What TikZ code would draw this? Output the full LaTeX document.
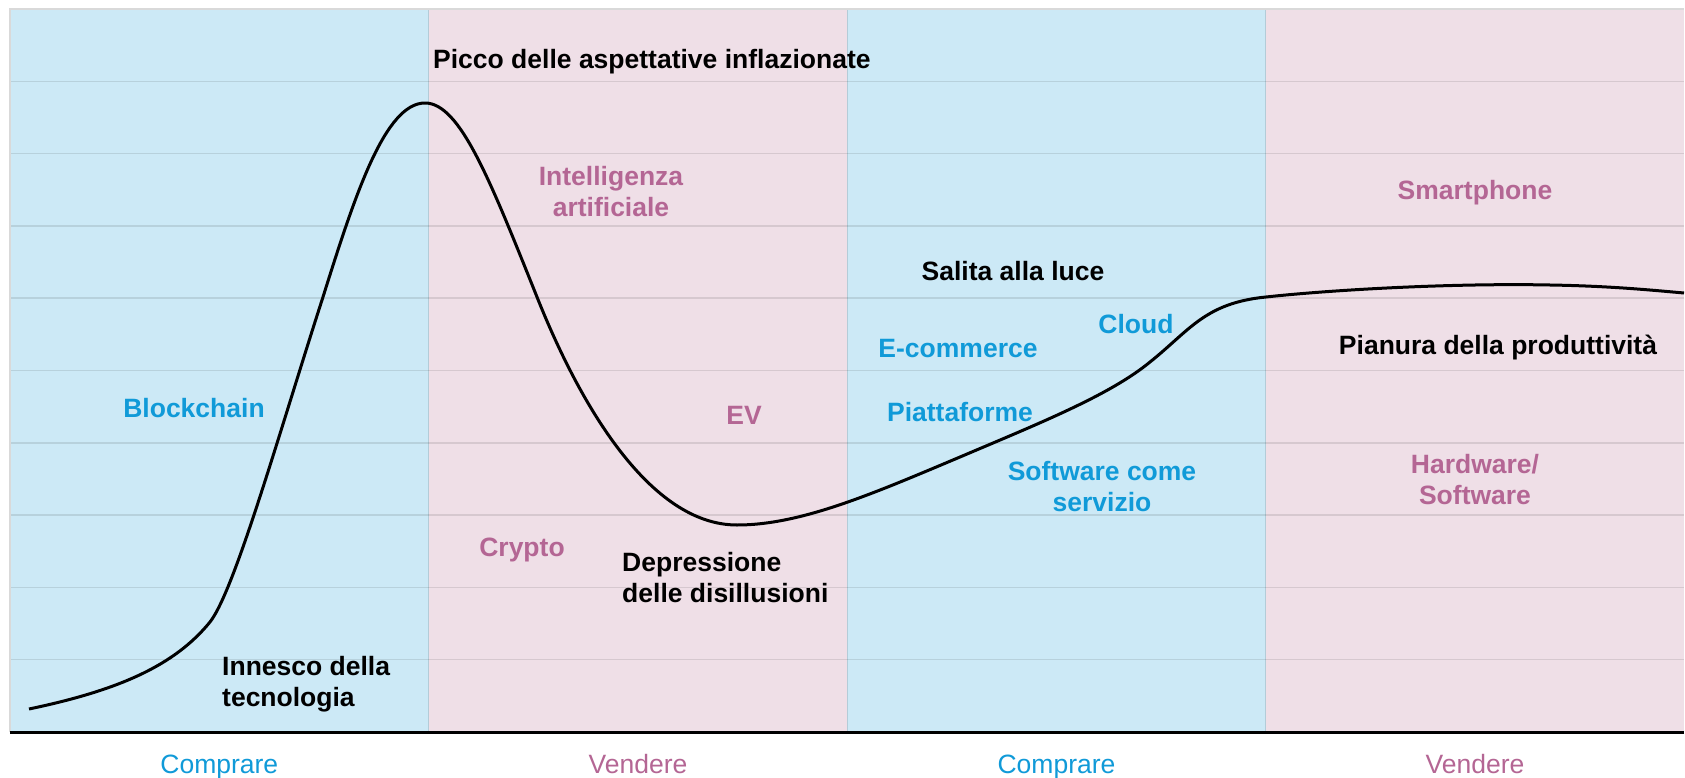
\documentclass[tikz,border=0pt]{standalone}
\usepackage{fontspec}
\setmainfont{Liberation Sans}
\definecolor{buyfill}{RGB}{204,233,246}
\definecolor{sellfill}{RGB}{239,223,231}
\definecolor{buytext}{RGB}{16,154,216}
\definecolor{selltext}{RGB}{180,102,148}
\begin{document}
\begin{tikzpicture}[x=1pt, y=-1pt,
        every node/.style={inner sep=0pt, font=\fontsize{26.5}{31}\selectfont},
        lbl/.style={font=\fontsize{26.5}{31}\selectfont\bfseries, align=left},
        buy/.style={lbl, text=buytext, align=center},
        sell/.style={lbl, text=selltext, align=center},
        phase/.style={anchor=base}]
        \useasboundingbox (0,0) rectangle (1685,778);
        % fasi
        \fill[buyfill] (10,9) rectangle (428.6,732);
        \fill[sellfill] (428.6,9) rectangle (847.2,732);
        \fill[buyfill] (847.2,9) rectangle (1265.8,732);
        \fill[sellfill] (1265.8,9) rectangle (1684,732);
        \foreach \k in {1,...,9}
            \draw[black, opacity=0.1, line width=1.5pt] (10,{9+72.3*\k}) -- (1684,{9+72.3*\k});
        \foreach \x in {428.6, 847.2, 1265.8}
            \draw[black, opacity=0.12, line width=1.2pt] (\x,9) -- (\x,732);
        \draw[black!15, line width=1.5pt] (10,732) -- (10,9) -- (1684,9);
        % curva
        \draw[line width=3pt, line join=round]
            (29,709) .. controls (120,690) and (175,665) .. (210,622)
            .. controls (235,590) and (280,430) .. (323,297)
            .. controls (355,195) and (385,103) .. (425,103)
            .. controls (460,103) and (490,180) .. (537,297)
            .. controls (580,405) and (650,525) .. (737,525)
            .. controls (800,525) and (870,495) .. (960,457)
            .. controls (1040,423) and (1110,395) .. (1150,362)
            .. controls (1190,330) and (1205,303) .. (1266,297)
            .. controls (1330,290) and (1450,283) .. (1550,285)
            .. controls (1610,286) and (1650,290) .. (1684,293);
        \draw[line width=3pt] (10,732) -- (1684,732);
        % etichette
        \node[lbl, anchor=base west] (picco) at (433,69) {Picco delle aspettative inflazionate};
        \node[lbl, anchor=north west] (innesco) at (222,656) {Innesco della\\tecnologia};
        \node[lbl, anchor=north west] (depressione) at (622,552) {Depressione\\delle disillusioni};
        \node[lbl, anchor=base] (salita) at (1013,280) {Salita alla luce};
        \node[lbl, anchor=base] (pianura) at (1498,354) {Pianura della produttività};
        \node[buy, anchor=base] (blockchain) at (194,417) {Blockchain};
        \node[buy, anchor=base] (ecommerce) at (958,357) {E-commerce};
        \node[buy, anchor=base] (cloud) at (1136,333) {Cloud};
        \node[buy, anchor=base] (piattaforme) at (960,421) {Piattaforme};
        \node[buy, anchor=north] (saas) at (1102,461) {Software come\\servizio};
        \node[sell, anchor=north] (ia) at (611,166) {Intelligenza\\artificiale};
        \node[sell, anchor=base] (ev) at (744,424) {EV};
        \node[sell, anchor=base] (crypto) at (522,556) {Crypto};
        \node[sell, anchor=base] (smartphone) at (1475,200) {Smartphone};
        \node[sell, anchor=north] (hwsw) at (1475,454) {Hardware/\\Software};
        \node[phase, text=buytext] (compra1) at (219.3,773) {Comprare};
        \node[phase, text=selltext] (vendi1) at (638,773) {Vendere};
        \node[phase, text=buytext] (compra2) at (1056.5,773) {Comprare};
        \node[phase, text=selltext] (vendi2) at (1475,773) {Vendere};
    \end{tikzpicture}
\end{document}
